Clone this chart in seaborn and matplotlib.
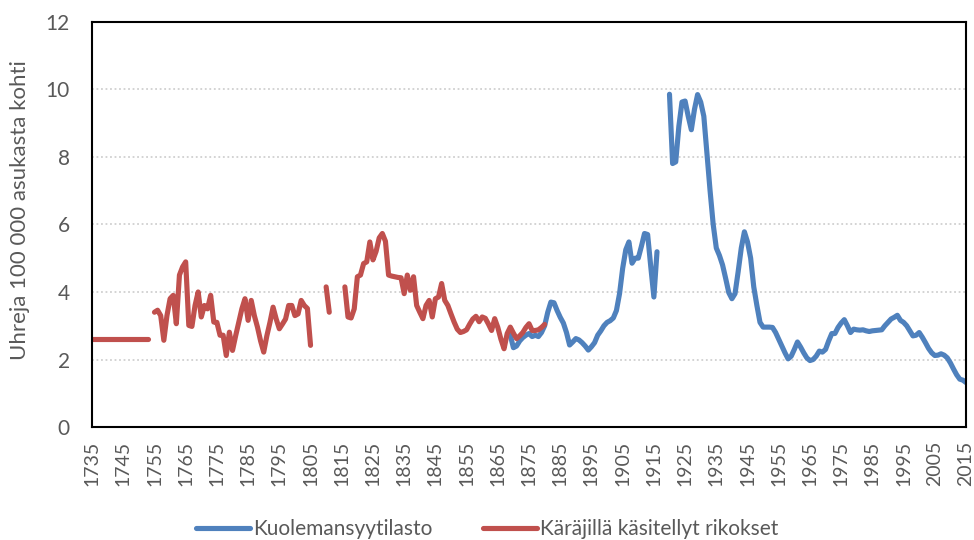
import matplotlib
matplotlib.use('Agg')
import matplotlib.pyplot as plt
import pandas as pd
import seaborn as sns

# Sarjojen nimet ja värit (Excelin oletuspaletti)
blue_name = 'Kuolemansyytilasto'
red_name = 'Käräjillä käsitellyt rikokset'
BLUE = '#4F81BD'
RED = '#C0504D'
GREY = '#595959'

# Käräjillä käsitellyt rikokset, uhreja / 100 000 asukasta (katkonainen sarja)
red_flat_start = 1735
red_flat = [2.6, 2.6, 2.6, 2.6, 2.6, 2.6, 2.6, 2.6, 2.6, 2.6,
            2.6, 2.6, 2.6, 2.6, 2.6, 2.6, 2.6, 2.6, 2.6]

red_a_start = 1755
red_a = [3.4, 3.46, 3.3, 2.57, 3.3, 3.8, 3.9, 3.06, 4.5, 4.74,
         4.89, 3.01, 2.98, 3.6, 4.0, 3.26, 3.6, 3.5, 3.9, 3.11,
         3.1, 2.72, 2.72, 2.12, 2.81, 2.27, 2.7, 3.1, 3.5, 3.8,
         3.16, 3.75, 3.3, 2.96, 2.55, 2.22, 2.7, 3.1, 3.55, 3.2,
         2.91, 3.05, 3.2, 3.6, 3.6, 3.3, 3.35, 3.75, 3.6, 3.51,
         2.42]

red_b_start = 1810
red_b = [4.15, 3.4]

red_c_start = 1816
red_c = [4.15, 3.26, 3.23, 3.5, 4.45, 4.5, 4.84, 4.89, 5.48, 4.95,
         5.2, 5.6, 5.73, 5.5, 4.5, 4.47, 4.45, 4.43, 4.42, 3.95,
         4.5, 4.05, 4.45, 3.6, 3.4, 3.21, 3.6, 3.75, 3.26, 3.8,
         3.85, 4.25, 3.75, 3.6, 3.35, 3.11, 2.9, 2.8, 2.83, 2.88,
         3.05, 3.2, 3.28, 3.12, 3.26, 3.22, 3.05, 2.86, 3.21, 2.95,
         2.6, 2.32, 2.77, 2.96, 2.78, 2.62, 2.7, 2.8, 2.95, 3.06,
         2.86, 2.86, 2.88, 2.95, 3.04]

# Kuolemansyytilasto
blue_a_start = 1869
blue_a = [2.72, 2.35, 2.4, 2.55, 2.65, 2.72, 2.77, 2.68, 2.72, 2.68,
          2.8, 3.0, 3.4, 3.7, 3.68, 3.45, 3.25, 3.08, 2.8, 2.43,
          2.52, 2.62, 2.58, 2.5, 2.4, 2.28, 2.38, 2.5, 2.72, 2.85,
          3.0, 3.1, 3.15, 3.23, 3.45, 3.95, 4.7, 5.25, 5.48, 4.85,
          5.0, 5.0, 5.35, 5.73, 5.7, 4.75, 3.85, 5.19]

blue_b_start = 1920
blue_b = [9.85, 7.8, 7.85, 8.9, 9.62, 9.65, 9.2, 8.8, 9.4, 9.84,
          9.62, 9.2, 8.1, 7.0, 6.0, 5.3, 5.08, 4.8, 4.4, 3.98,
          3.8, 3.95, 4.6, 5.3, 5.78, 5.48, 5.0, 4.15, 3.6, 3.1,
          2.96, 2.96, 2.96, 2.95, 2.8, 2.6, 2.4, 2.2, 2.02, 2.1,
          2.3, 2.52, 2.37, 2.2, 2.05, 1.97, 2.0, 2.1, 2.25, 2.22,
          2.3, 2.55, 2.77, 2.77, 2.95, 3.08, 3.18, 3.0, 2.8, 2.9,
          2.88, 2.87, 2.88, 2.85, 2.83, 2.85, 2.86, 2.87, 2.88, 3.0,
          3.1, 3.2, 3.25, 3.31, 3.16, 3.1, 3.0, 2.85, 2.7, 2.72,
          2.8, 2.66, 2.5, 2.33, 2.2, 2.12, 2.13, 2.17, 2.13, 2.05,
          1.9, 1.72, 1.55, 1.42, 1.39, 1.32]

year_ticks = list(range(1735, 2016, 10))
y_ticks = [0, 2, 4, 6, 8, 10, 12]


def segment(series, seg, start, values):
    return pd.DataFrame({'vuosi': range(start, start + len(values)),
                         'arvo': values, 'sarja': series, 'osa': seg})


df = pd.concat([
    segment(blue_name, 'b1', blue_a_start, blue_a),
    segment(blue_name, 'b2', blue_b_start, blue_b),
    segment(red_name, 'r0', red_flat_start, red_flat),
    segment(red_name, 'r1', red_a_start, red_a),
    segment(red_name, 'r2', red_b_start, red_b),
    segment(red_name, 'r3', red_c_start, red_c),
], ignore_index=True)

sns.set_theme(style='white')
plt.rcParams['font.family'] = ['Lato', 'DejaVu Sans']

fig, ax = plt.subplots(figsize=(9.74, 5.40), dpi=100)
fig.subplots_adjust(left=0.0945, right=0.9918, top=0.96, bottom=0.209)

# units erottaa aukolliset jaksot toisistaan
sns.lineplot(data=df, x='vuosi', y='arvo', hue='sarja', units='osa',
             estimator=None, hue_order=[blue_name, red_name],
             palette=[BLUE, RED], lw=3.7, solid_capstyle='round',
             solid_joinstyle='round', ax=ax)

ax.set_xlim(1735, 2015)
ax.set_ylim(0, 12)
ax.set_xticks(year_ticks)
ax.set_yticks(y_ticks)
ax.tick_params(axis='x', labelrotation=90, length=0, pad=10, labelsize=14, labelcolor=GREY)
ax.tick_params(axis='y', length=0, pad=16, labelsize=15, labelcolor=GREY)
ax.yaxis.grid(True, color='#d0d0d0', linestyle=(0, (1, 1.5)), lw=1.3)
ax.set_axisbelow(True)
for sp in ax.spines.values():
    sp.set_color('black')
    sp.set_linewidth(1.5)

ax.set_xlabel('')
ax.set_ylabel('Uhreja 100 000 asukasta kohti', fontsize=16, color=GREY)
ax.yaxis.set_label_coords(-0.071, 0.535)

handles, labels = ax.get_legend_handles_labels()
ax.get_legend().remove()
for h in handles:
    h.set_linewidth(3.7)
    h.set_solid_capstyle('round')
fig.legend(handles, labels, loc='lower center', bbox_to_anchor=(0.5, -0.033),
           ncol=2, frameon=False, fontsize=15, labelcolor=GREY,
           handlelength=2.6, handletextpad=0.15, columnspacing=2.4)

fig.savefig('out.png', dpi=100)
